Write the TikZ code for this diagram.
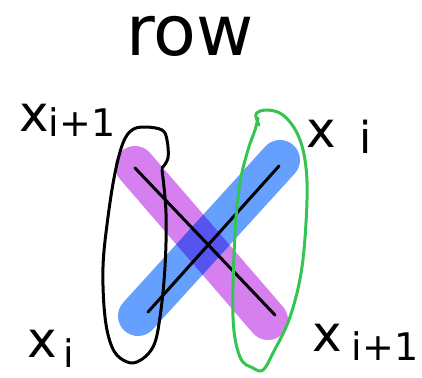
\documentclass[tikz,border=0pt]{standalone}
\usepackage{fontspec}
\setmainfont{DejaVu Sans}
\usetikzlibrary{calc}
\definecolor{pur}{RGB}{214,128,240}
\definecolor{blu}{RGB}{102,160,255}
\definecolor{ovl}{RGB}{85,84,238}
\definecolor{grn}{RGB}{52,196,82}
\tikzset{
  hl/.style={line width=40pt, line cap=round},
  pen/.style={line width=3pt, line cap=round, line join=round},
  big/.style={font=\fontsize{50}{50}\selectfont, inner sep=0pt},
  sub/.style={font=\fontsize{38}{38}\selectfont, inner sep=0pt},
}
\begin{document}
\begin{tikzpicture}[x=1pt,y=-1pt]
\useasboundingbox (0,0) rectangle (422,377);
% anchor coordinates
\coordinate (pa) at (135,166);
\coordinate (pb) at (268,320);
\coordinate (ba) at (138,316);
\coordinate (bb) at (280,160);
\coordinate (la) at (135,168);
\coordinate (lb) at (275,315);
\coordinate (ma) at (148,312);
\coordinate (mb) at (279,166);
% highlighter strokes
\draw[hl, pur] (pa) -- (pb);
\draw[hl, blu] (ba) -- (bb);
\begin{scope}
  \clip ($(pa)!20pt!90:(pb)$) -- ($(pb)!20pt!-90:(pa)$) -- ($(pb)!20pt!90:(pa)$) -- ($(pa)!20pt!-90:(pb)$) -- cycle;
  \draw[hl, ovl] (ba) -- (bb);
\end{scope}
% pen lines
\draw[pen] (la) -- (lb);
\draw[pen] (ma) -- (mb);
% black loop
\draw[pen] plot[smooth, tension=0.6] coordinates {(162,168) (168,158) (167,140) (162,130) (145,127) (132,130) (123,143) (115,173) (108,217) (103,267) (105,317) (112,347) (123,360) (137,362) (153,347) (160,317) (165,267) (166,213) (162,170)};
% green loop
\draw[pen, grn] plot[smooth, tension=0.6] coordinates {(259,125) (256,114) (267,110) (283,115) (297,133) (305,160) (307,200) (302,267) (290,317) (273,353) (263,370) (253,368) (240,357) (233,317) (235,233) (240,183) (248,150) (255,130) (258,118)};
% texts
\node[font=\fontsize{70}{70}\selectfont, inner sep=0pt] (row) at (190,36) {row};
\node[big] (x1) at (34,118) {x};
\node[sub] (s1) at (82,122) {i+1};
\node[big] (x2) at (321,134) {x};
\node[sub, font=\fontsize{44}{44}\selectfont] (s2) at (366,137) {i};
\node[big] (x3) at (42,344) {x};
\node[sub] (s3) at (69,353) {i};
\node[big] (x4) at (327,338) {x};
\node[sub] (s4) at (385,346) {i+1};
\end{tikzpicture}
\end{document}
